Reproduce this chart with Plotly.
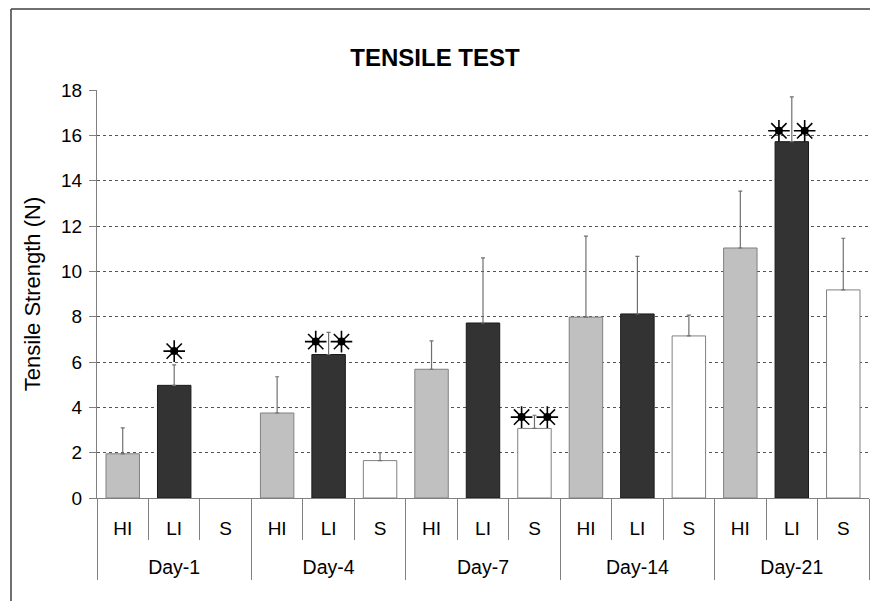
import plotly.graph_objects as go

days = ["Day-1", "Day-4", "Day-7", "Day-14", "Day-21"]
groups = ["HI", "LI", "S"]

hi_vals = [1.95, 3.75, 5.68, 7.98, 11.03]
li_vals = [4.97, 6.33, 7.72, 8.12, 15.72]
s_vals = [0.0, 1.65, 3.07, 7.15, 9.18]

hi_err_top = [3.09, 5.35, 6.93, 11.55, 13.54]
li_err_top = [5.87, 7.31, 10.59, 10.66, 17.7]
s_err_top = [0.0, 2.0, 3.65, 8.07, 11.46]

# significance stars: day, group, side (-1 left, 0 centre, +1 right), height
star_day = ["Day-1", "Day-4", "Day-4", "Day-7", "Day-7", "Day-21", "Day-21"]
star_group = ["LI", "LI", "LI", "S", "S", "LI", "LI"]
star_side = [0, -1, 1, -1, 1, -1, 1]
star_y = [6.48, 6.9, 6.9, 3.57, 3.57, 16.2, 16.2]

colors = {"HI": "#C0C0C0", "LI": "#333333", "S": "#FFFFFF"}
outlines = {"HI": "#808080", "LI": "#1A1A1A", "S": "#808080"}

xo, xi, yv, ey, fc, lc = [], [], [], [], [], []
vals = {"HI": hi_vals, "LI": li_vals, "S": s_vals}
tops = {"HI": hi_err_top, "LI": li_err_top, "S": s_err_top}
for d_i, d in enumerate(days):
    for g in groups:
        xo.append(d)
        xi.append(g)
        v = vals[g][d_i]
        yv.append(v if v > 0 else None)
        ey.append(max(tops[g][d_i] - v, 0))
        fc.append(colors[g])
        lc.append(outlines[g])

n_cat = len(days) * len(groups)
rng = [-0.5, n_cat - 0.5]

FONT = "Arial, Liberation Sans, sans-serif"

fig = go.Figure()
fig.add_trace(go.Bar(
    x=[xo, xi], y=yv,
    marker=dict(color=fc, line=dict(color=lc, width=1)),
    error_y=dict(type="data", symmetric=False, array=ey,
                 arrayminus=[0] * len(ey), color="#707070",
                 thickness=1.2, width=2),
    showlegend=False, hoverinfo="skip",
))

# star positions on the numeric overlay axis (category index)
star_x = []
for d, g, s in zip(star_day, star_group, star_side):
    idx = days.index(d) * len(groups) + groups.index(g)
    star_x.append(idx + 0.25 * s)

fig.add_trace(go.Scatter(
    x=star_x, y=star_y, xaxis="x2", mode="markers",
    marker=dict(symbol="asterisk-open", size=18, color="black",
                line=dict(color="black", width=1.6)),
    showlegend=False, hoverinfo="skip",
))
fig.add_trace(go.Scatter(
    x=star_x, y=star_y, xaxis="x2", mode="markers",
    marker=dict(symbol="circle", size=8, color="black"),
    showlegend=False, hoverinfo="skip",
))

# category boundaries and centres on the numeric overlay axes
inner_bounds = [i + 0.5 for i in range(n_cat - 1)]
group_bounds = [i * len(groups) - 0.5 for i in range(len(days) + 1)]
inner_centres = list(range(n_cat))
day_centres = [i * len(groups) + (len(groups) - 1) / 2 for i in range(len(days))]

common = dict(overlaying="x", range=rng, anchor="y", side="bottom",
              showgrid=False, zeroline=False, showline=False)

fig.update_layout(
    width=870, height=601,
    margin=dict(l=97, r=1, t=90, b=103),
    paper_bgcolor="white", plot_bgcolor="white",
    bargap=0.35,
    font=dict(family=FONT, color="black", size=19),
    title=dict(text="<b>TENSILE TEST</b>", x=0.5, xref="container",
               y=1 - 58 / 601, yref="container", yanchor="middle",
               xanchor="center", font=dict(size=24, family=FONT)),
    xaxis=dict(
        type="multicategory",
        showline=True, linecolor="#808080", linewidth=1,
        ticks="", showticklabels=False, showdividers=False,
        showgrid=False, zeroline=False,
    ),
    # stars axis (invisible)
    xaxis2=dict(overlaying="x", range=rng, visible=False),
    # short separators between HI / LI / S
    xaxis3=dict(**common, tickmode="array", tickvals=inner_bounds,
                ticks="outside", ticklen=41, tickcolor="#808080",
                tickwidth=1, showticklabels=False),
    # long separators between days
    xaxis4=dict(**common, tickmode="array", tickvals=group_bounds,
                ticks="outside", ticklen=81, tickcolor="#808080",
                tickwidth=1, showticklabels=False),
    # inner labels
    xaxis5=dict(**common, tickmode="array", tickvals=inner_centres,
                ticktext=xi, ticks="", ticklabelstandoff=17,
                tickfont=dict(size=19, family=FONT)),
    # outer labels
    xaxis6=dict(**common, tickmode="array", tickvals=day_centres,
                ticktext=days, ticks="", ticklabelstandoff=55,
                tickfont=dict(size=19.5, family=FONT)),
    yaxis=dict(
        range=[0, 18], dtick=2, tick0=0,
        showline=True, linecolor="#808080", linewidth=1,
        ticks="outside", ticklen=7, tickcolor="#808080",
        showgrid=True, gridcolor="#555555", griddash="dot", gridwidth=1,
        zeroline=False, ticklabelstandoff=3,
        tickfont=dict(size=19, family=FONT),
        title=dict(text="Tensile Strength (N)", font=dict(size=22, family=FONT),
                   standoff=14),
    ),
)

# dummy invisible traces so the label / separator axes are drawn
for ax in ["x3", "x4", "x5", "x6"]:
    fig.add_trace(go.Scatter(x=[None], y=[None], xaxis=ax, showlegend=False,
                             hoverinfo="skip"))

# outer frame of the chart (left and top edges visible)
fx0 = (11 - 97) / 772
fy1 = (498 - 9) / 408
fx1 = (870 - 97) / 772
fig.add_shape(type="line", xref="paper", yref="paper",
              x0=fx0, x1=fx0, y0=-0.3, y1=fy1,
              line=dict(color="#404040", width=1.5), layer="below")
fig.add_shape(type="line", xref="paper", yref="paper",
              x0=fx0, x1=fx1, y0=fy1, y1=fy1,
              line=dict(color="#404040", width=1.5), layer="below")

fig.write_html("out.html", config={"displayModeBar": False})
